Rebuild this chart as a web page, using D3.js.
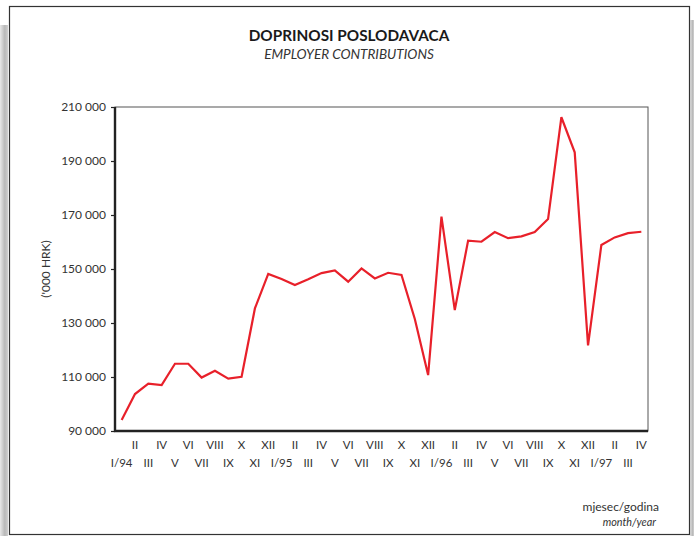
<!DOCTYPE html>
<html>
<head>
<meta charset="utf-8">
<script src="https://cdn.jsdelivr.net/npm/d3@7"></script>
<style>
  body { margin: 0; background: #fff; }
  text { font-family: Lato, "Open Sans", sans-serif; fill: #333; }
</style>
</head>
<body>
<div id="chart"></div>
<script>

// month labels, Jan 1994 - Apr 1997
const months = ["I/94","II","III","IV","V","VI","VII","VIII","IX","X","XI","XII",
  "I/95","II","III","IV","V","VI","VII","VIII","IX","X","XI","XII",
  "I/96","II","III","IV","V","VI","VII","VIII","IX","X","XI","XII",
  "I/97","II","III","IV"];

// employer contributions, '000 HRK
const contributions = [94100, 103700, 107500, 107000, 114900, 114900, 109800, 112300, 109400, 110100,
  135400, 148200, 146300, 144100, 146200, 148500, 149500, 145300, 150200, 146500,
  148600, 147800, 131500, 110700, 169400, 134800, 160500, 160100, 163700, 161400,
  162100, 163700, 168500, 206200, 193200, 121700, 158900, 161700, 163300, 163800];

const yTicks = [90000, 110000, 130000, 150000, 170000, 190000, 210000];

const width = 694, height = 536;
const margin = {top: 107, right: 46, bottom: 105, left: 115};

const svg = d3.select("#chart").append("svg")
  .attr("width", width)
  .attr("height", height);

// page shadow + frame
const grad = svg.append("defs").append("linearGradient").attr("id", "shade");
grad.append("stop").attr("offset", "0%").attr("stop-color", "#e8e8e8");
grad.append("stop").attr("offset", "60%").attr("stop-color", "#b8b8b8");
grad.append("stop").attr("offset", "100%").attr("stop-color", "#d0d0d0");

svg.append("rect").attr("x", 0).attr("y", 25).attr("width", 8).attr("height", height - 25)
  .style("fill", "url(#shade)");
svg.append("rect").attr("x", 690).attr("y", 20).attr("width", 4).attr("height", height - 20)
  .style("fill", "url(#shade)");
svg.append("rect")
  .attr("x", 9.5).attr("y", 6.5)
  .attr("width", 680).attr("height", 528)
  .style("fill", "#fff").style("stroke", "#333").style("stroke-width", 1.2);

// titles
svg.append("text")
  .attr("x", 349).attr("y", 41)
  .style("text-anchor", "middle")
  .style("font-size", "15.3px").style("font-weight", "bold")
  .style("fill", "#1a1a1a")
  .text("DOPRINOSI POSLODAVACA");

svg.append("text")
  .attr("x", 349).attr("y", 59)
  .style("text-anchor", "middle")
  .style("font-size", "13.5px").style("font-style", "italic")
  .text("EMPLOYER CONTRIBUTIONS");

let x = d3.scalePoint()
  .domain(d3.range(months.length))
  .range([margin.left, width - margin.right])
  .padding(0.5);

let y = d3.scaleLinear()
  .domain([90000, 210000])
  .range([height - margin.bottom, margin.top]);

const pw = width - margin.right - margin.left;
const ph = height - margin.bottom - margin.top;

// thin top/right frame of plot
svg.append("rect")
  .attr("x", margin.left).attr("y", margin.top)
  .attr("width", pw).attr("height", ph)
  .style("fill", "none").style("stroke", "#555").style("stroke-width", 1);

// y axis
let yAxis = d3.axisLeft(y)
  .tickValues(yTicks)
  .tickSize(4)
  .tickPadding(5)
  .tickFormat(d => d3.format(",")(d).replace(",", " "));

let gy = svg.append("g")
  .attr("transform", `translate(${margin.left},0)`)
  .call(yAxis);
gy.select(".domain").remove();
gy.selectAll(".tick line").style("stroke", "#222").style("stroke-width", 1.2);
gy.selectAll(".tick text").style("font-size", "12px").style("font-family", "Lato, sans-serif").style("fill", "#333");

// thick left & bottom axis lines
svg.append("path")
  .attr("d", `M${margin.left},${margin.top} V${height - margin.bottom} H${width - margin.right}`)
  .style("fill", "none").style("stroke", "#222").style("stroke-width", 2.4);

// month labels in two rows
svg.selectAll("text.month")
  .data(months)
  .enter()
  .append("text")
  .attr("class", "month")
  .attr("x", (d, i) => x(i))
  .attr("y", (d, i) => i % 2 ? 449 : 467)
  .style("text-anchor", "middle")
  .style("font-size", "11.5px")
  .text(d => d);

// line
let line = d3.line()
  .x((d, i) => x(i))
  .y(d => y(d));

svg.append("path")
  .datum(contributions)
  .attr("d", line)
  .style("fill", "none")
  .style("stroke", "#e8202a")
  .style("stroke-width", 2.2)
  .style("stroke-linejoin", "miter");

// y label
svg.append("text")
  .attr("transform", `translate(50,${(margin.top + height - margin.bottom) / 2}) rotate(-90)`)
  .style("text-anchor", "middle")
  .style("font-size", "12px")
  .text("('000 HRK)");

// x label
svg.append("text")
  .attr("x", 659).attr("y", 511)
  .style("text-anchor", "end")
  .style("font-size", "12px")
  .text("mjesec/godina");

svg.append("text")
  .attr("x", 656).attr("y", 526)
  .style("text-anchor", "end")
  .style("font-size", "10.8px").style("font-style", "italic")
  .text("month/year");

</script>
</body>
</html>
